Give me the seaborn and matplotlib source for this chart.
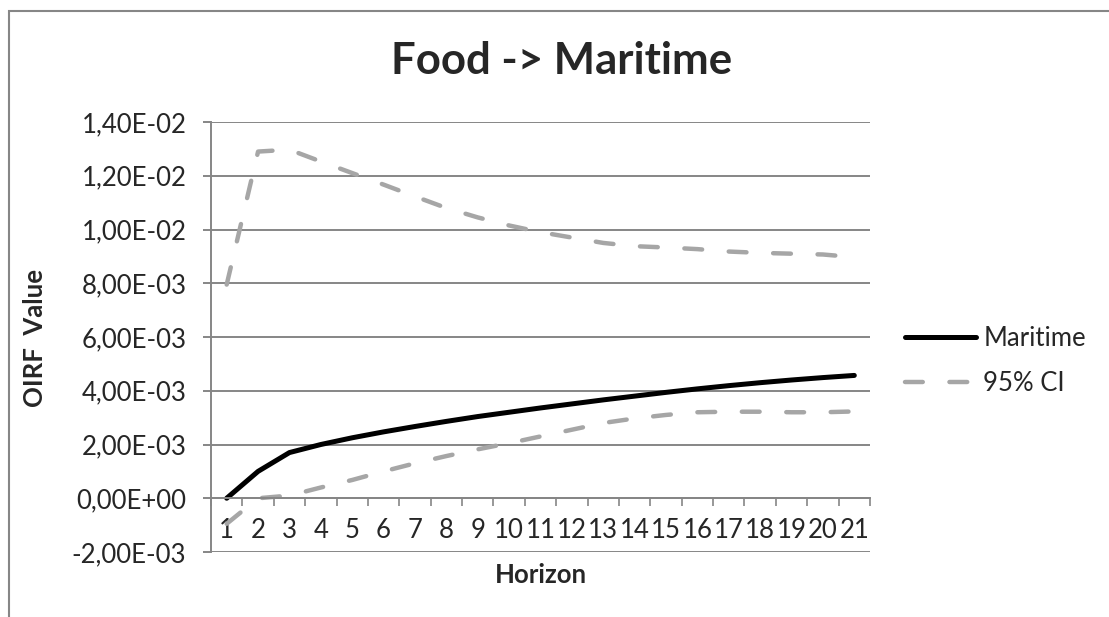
import matplotlib
matplotlib.use("Agg")
import matplotlib.pyplot as plt
import matplotlib.ticker as mticker
from matplotlib.lines import Line2D
from matplotlib.patches import Rectangle
import seaborn as sns
import pandas as pd

# ---- data ----
horizon = list(range(1, 22))
maritime = [0.0, 1.0e-3, 1.7e-3, 2.0e-3, 2.25e-3, 2.47e-3, 2.67e-3, 2.86e-3, 3.04e-3, 3.2e-3,
            3.36e-3, 3.51e-3, 3.66e-3, 3.8e-3, 3.94e-3, 4.07e-3, 4.19e-3, 4.3e-3, 4.4e-3, 4.49e-3, 4.57e-3]
ci_upper = [7.95e-3, 1.29e-2, 1.297e-2, 1.253e-2, 1.21e-2, 1.167e-2, 1.123e-2, 1.08e-2, 1.045e-2, 1.015e-2,
            9.9e-3, 9.7e-3, 9.5e-3, 9.38e-3, 9.33e-3, 9.27e-3, 9.18e-3, 9.13e-3, 9.1e-3, 9.07e-3, 8.97e-3]
ci_lower = [-0.95e-3, 0.0, 0.1e-3, 0.4e-3, 0.68e-3, 1.0e-3, 1.3e-3, 1.57e-3, 1.82e-3, 2.05e-3,
            2.3e-3, 2.55e-3, 2.8e-3, 2.97e-3, 3.1e-3, 3.2e-3, 3.22e-3, 3.22e-3, 3.2e-3, 3.2e-3, 3.23e-3]
y_ticks = [-2e-3, 0.0, 2e-3, 4e-3, 6e-3, 8e-3, 1.0e-2, 1.2e-2, 1.4e-2]
title = "Food -> Maritime"
x_label = "Horizon"
y_label = "OIRF  Value"
legend_labels = ["Maritime", "95% CI"]

sns.set_style("white")
plt.rcParams['font.family'] = ['Lato', 'DejaVu Sans']
plt.rcParams['lines.scale_dashes'] = True

W, H = 1109, 617
fig = plt.figure(figsize=(W / 100, H / 100), dpi=100)
ax = fig.add_axes([211 / W, 1 - 552 / H, (870 - 211) / W, (552 - 122) / H])

df = pd.DataFrame({"h": horizon, "m": maritime, "up": ci_upper, "lo": ci_lower})
grid_c = "#868686"
ci_c = "#A6A6A6"
fs = 18.5
ci_lw = 3.2
ci_dash = (0, (4.0, 6.0))

for col in ["up", "lo"]:
    sns.lineplot(data=df, x="h", y=col, ax=ax, color=ci_c, linewidth=ci_lw,
                 linestyle=ci_dash, dash_capstyle="round", solid_capstyle="round")
sns.lineplot(data=df, x="h", y="m", ax=ax, color="black", linewidth=3.6,
             solid_capstyle="round")

ax.set_xlim(0.5, 21.5)
ax.set_ylim(-2e-3, 1.4e-2)
ax.set_yticks(y_ticks)
ax.yaxis.set_major_formatter(mticker.FuncFormatter(lambda v, p: f"{v:.2E}".replace(".", ",")))
ax.yaxis.grid(True, color=grid_c, linewidth=1.4)
ax.set_axisbelow(True)

# x ticks: marks at boundaries, labels at categories
ax.set_xticks([i + 0.5 for i in range(0, 22)])
ax.xaxis.set_major_formatter(mticker.NullFormatter())
ax.set_xticks(horizon, minor=True)
ax.set_xticklabels([str(h) for h in horizon], minor=True)
ax.tick_params(axis="x", which="major", direction="out", length=5.8, width=1.2, color=grid_c, bottom=True)
ax.tick_params(axis="x", which="minor", length=0, pad=14, labelsize=fs)
ax.tick_params(axis="y", direction="out", length=5.8, width=1.4, color=grid_c, left=True,
               labelsize=fs, pad=12)

for s in ["top", "right"]:
    ax.spines[s].set_visible(False)
ax.spines["bottom"].set_position(("data", 0))
ax.spines["bottom"].set_color(grid_c)
ax.spines["bottom"].set_linewidth(1.4)
ax.spines["left"].set_color(grid_c)
ax.spines["left"].set_linewidth(1.4)

ax.set_xlabel("")
ax.set_ylabel("")
fig.text(541 / W, 1 - 575 / H, x_label, ha="center", va="center", fontsize=fs, fontweight="bold")
fig.text(35 / W, 1 - 338 / H, y_label, ha="center", va="center", rotation=90, fontsize=fs,
         fontweight="bold")
fig.text(562 / W, 1 - 61 / H, title, ha="center", va="center", fontsize=31.5, fontweight="bold")

handles = [Line2D([], [], color="black", linewidth=3.6, solid_capstyle="round"),
           Line2D([], [], color=ci_c, linewidth=ci_lw, linestyle=ci_dash, dash_capstyle="round")]
fig.legend(handles, legend_labels, loc="center left", bbox_to_anchor=(905 / W, 1 - 361 / H),
           frameon=False, fontsize=fs, handlelength=2.75, handletextpad=0.3, labelspacing=0.8,
           borderpad=0, borderaxespad=0)

fig.add_artist(Rectangle((9 / W, -0.1), 1.2, 1.1 - 11 / H, transform=fig.transFigure,
                         fill=False, edgecolor=grid_c, linewidth=1.5))

fig.savefig("out.png", dpi=100)
